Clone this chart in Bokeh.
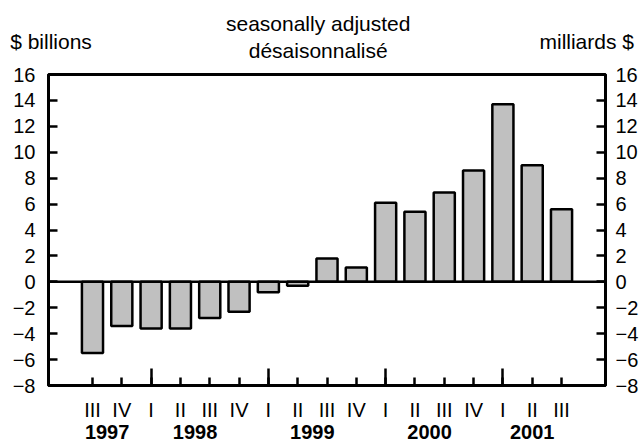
from bokeh.plotting import figure
from bokeh.models import LinearAxis, FixedTicker, Span, Range1d
from bokeh.embed import file_html
from bokeh.resources import INLINE

quarters = ["III", "IV", "I", "II", "III", "IV", "I", "II", "III", "IV",
            "I", "II", "III", "IV", "I", "II", "III"]
years = ["1997", "1997", "1998", "1998", "1998", "1998", "1999", "1999", "1999", "1999",
         "2000", "2000", "2000", "2000", "2001", "2001", "2001"]
values = [-5.5, -3.4, -3.6, -3.6, -2.8, -2.3, -0.8, -0.3, 1.8, 1.1,
          6.1, 5.4, 6.9, 8.6, 13.7, 9.0, 5.6]
y_ticks = list(range(-8, 17, 2))

left_unit = "$ billions"
right_unit = "milliards $"
note_en = "seasonally adjusted"
note_fr = "désaisonnalisé"

idx = list(range(len(values)))
year_names = []
for y in years:
    if y not in year_names:
        year_names.append(y)
year_centers = [sum(i for i in idx if years[i] == y) / years.count(y) for y in year_names]
year_starts = [i for i in idx if quarters[i] == "I"]

FONT = "Liberation Sans"
FS = "20px"
FS_T = "21px"

p = figure(width=641, height=441, output_backend="svg", toolbar_location=None,
           x_range=Range1d(-1.5, 17.5), y_range=Range1d(-8, 16),
           min_border_left=48, min_border_right=31, min_border_top=74, min_border_bottom=54)
p.grid.visible = False
p.outline_line_color = "black"
p.outline_line_width = 3
p.background_fill_color = "white"
p.border_fill_color = "white"

p.vbar(x=idx, top=values, bottom=0, width=0.72, fill_color="#c0c0c0",
       line_color="black", line_width=2.5)
p.add_layout(Span(location=0, dimension="width", line_color="black", line_width=2.5))

# bottom axis: quarters
xa = p.xaxis[0]
xa.ticker = FixedTicker(ticks=idx, minor_ticks=year_starts)
xa.major_label_overrides = {i: q for i, q in enumerate(quarters)}
xa.major_tick_in = 8
xa.major_tick_out = 0
xa.minor_tick_in = 17
xa.minor_tick_out = 0
xa.major_tick_line_width = 2.5
xa.minor_tick_line_width = 2.5
xa.axis_line_width = 3
xa.major_label_text_font = FONT
xa.major_label_text_font_size = FS
xa.major_label_text_color = "black"
xa.major_label_standoff = 13


def text_axis(ticks, labels, standoff, size, bold=False, line_height=1.2):
    ax = LinearAxis(ticker=FixedTicker(ticks=ticks, minor_ticks=[]),
                    major_label_overrides={t: s for t, s in zip(ticks, labels)})
    ax.axis_line_color = None
    ax.major_tick_line_color = None
    ax.minor_tick_line_color = None
    ax.major_label_text_font = FONT
    ax.major_label_text_font_size = size
    ax.major_label_text_color = "black"
    ax.major_label_text_line_height = line_height
    if bold:
        ax.major_label_text_font_style = "bold"
    ax.major_label_standoff = standoff
    return ax


# second bottom axis: years
p.add_layout(text_axis(year_centers, year_names, -5, FS, bold=True), "below")

# header texts: one axis, multi-line labels (blank lines give the vertical offsets)
p.add_layout(text_axis([-1.415, 7.7, 16.86],
                       [left_unit + "\n", note_en + "\n\n\n" + note_fr, right_unit + "\n"],
                       7, FS_T, line_height=0.387), "above")


def style_y(ax, standoff):
    ax.ticker = FixedTicker(ticks=y_ticks, minor_ticks=[])
    ax.major_tick_in = 9
    ax.major_tick_out = 0
    ax.major_tick_line_width = 2.5
    ax.minor_tick_line_color = None
    ax.axis_line_width = 3
    ax.major_label_text_font = FONT
    ax.major_label_text_font_size = FS
    ax.major_label_text_color = "black"
    ax.major_label_standoff = standoff


style_y(p.yaxis[0], 13)
ra = LinearAxis()
style_y(ra, 10)
p.add_layout(ra, "right")

open("out.html", "w").write(file_html(p, INLINE))
